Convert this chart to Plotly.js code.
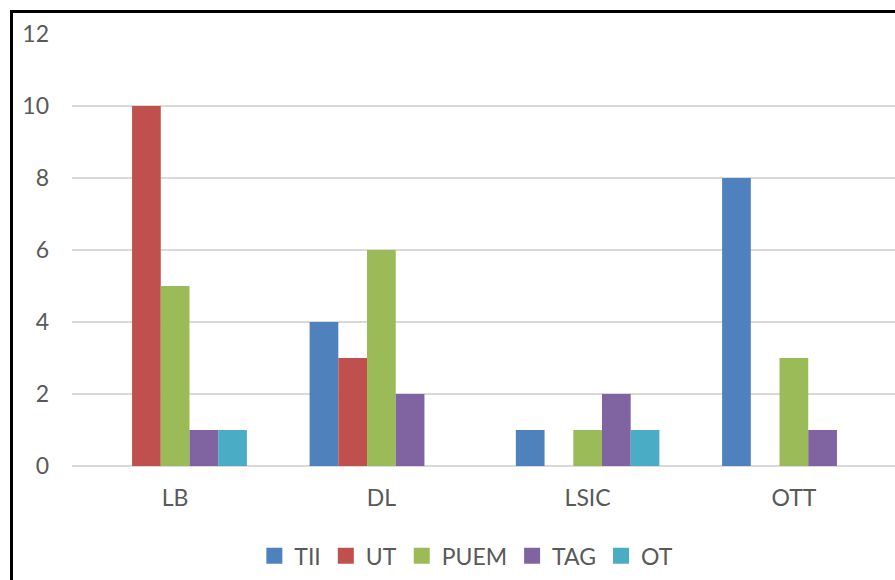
<!DOCTYPE html>
<html>
<head>
<meta charset="utf-8">
<script src="https://cdn.plot.ly/plotly-3.0.1.min.js"></script>
<style>
html,body{margin:0;padding:0;overflow:hidden;background:#fff;width:895px;height:580px;}
#chart{position:absolute;left:0;top:0;}
#frame{position:absolute;left:10px;top:10px;width:1000px;height:1000px;border:3px solid #000;box-sizing:border-box;pointer-events:none;}
</style>
</head>
<body>
<div id="chart"></div>
<div id="frame"></div>
<script>
const categories = ["LB", "DL", "LSIC", "OTT"];
const seriesNames = ["TII", "UT", "PUEM", "TAG", "OT"];
const TII  = [0, 4, 1, 8];
const UT   = [10, 3, 0, 0];
const PUEM = [5, 6, 1, 3];
const TAG  = [1, 2, 2, 1];
const OT   = [1, 0, 1, 0];
const yTicks = [0, 2, 4, 6, 8, 10, 12];

const seriesValues = [TII, UT, PUEM, TAG, OT];
const colors = ["#4F81BD", "#C0504D", "#9BBB59", "#8064A2", "#4BACC6"];

const font = "Lato, 'Open Sans', sans-serif";

const bars = seriesNames.map((n, i) => ({
  type: "bar",
  name: n,
  legendgroup: n,
  showlegend: false,
  x: categories,
  y: seriesValues[i],
  marker: {color: colors[i], line: {width: 0}},
  hoverinfo: "x+y+name"
}));

// legend keys (square markers, no visible points)
const keys = seriesNames.map((n, i) => ({
  type: "scatter",
  mode: "markers",
  name: n,
  legendgroup: n,
  x: [categories[0]],
  y: [null],
  marker: {symbol: "square", size: 16, color: colors[i], line: {width: 0}},
  hoverinfo: "skip"
}));

const layout = {
  width: 897,
  height: 580,
  margin: {l: 72, r: 0, t: 34, b: 114},
  paper_bgcolor: "#fff",
  plot_bgcolor: "#fff",
  barmode: "group",
  bargap: 0.304,
  bargroupgap: 0,
  showlegend: true,
  legend: {
    orientation: "h",
    x: 0.478, xanchor: "center",
    y: -0.208, yanchor: "middle",
    font: {family: font, size: 23, color: "#595959"},
    itemwidth: 30,
    itemclick: false
  },
  xaxis: {
    type: "category",
    showgrid: false,
    showline: false,
    zeroline: false,
    ticks: "",
    ticklabelstandoff: 16,
    tickfont: {family: font, size: 23, color: "#595959"}
  },
  yaxis: {
    range: [0, 12],
    tickvals: yTicks,
    ticktext: yTicks.map(String),
    showgrid: true,
    gridcolor: "#D9D9D9",
    gridwidth: 1.5,
    zeroline: true,
    zerolinecolor: "#D9D9D9",
    zerolinewidth: 1.5,
    showline: false,
    ticks: "",
    ticklabelstandoff: 22,
    tickfont: {family: font, size: 23, color: "#595959"}
  }
};

Plotly.newPlot("chart", bars.concat(keys), layout, {displayModeBar: false, staticPlot: true});
</script>
</body>
</html>
